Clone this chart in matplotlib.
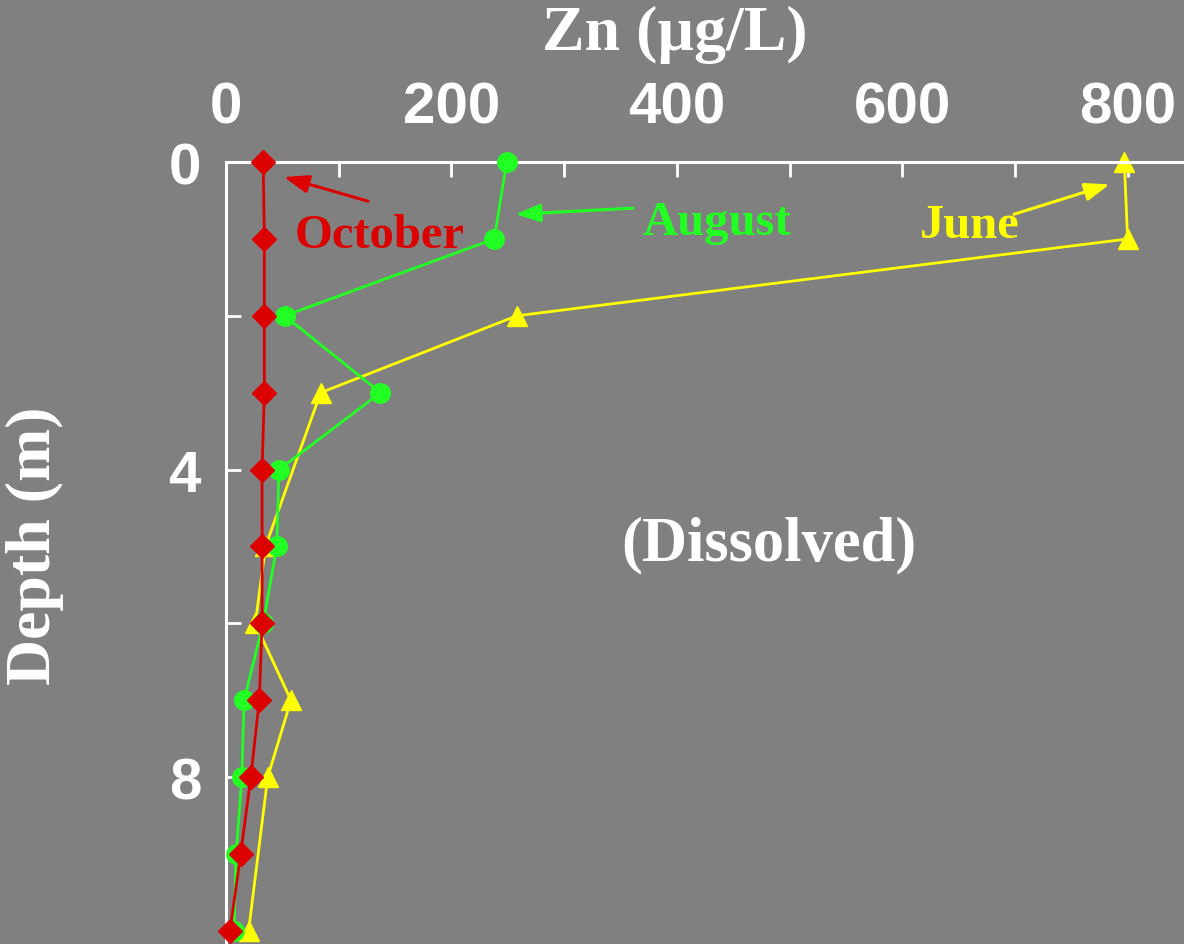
import matplotlib.pyplot as plt
from matplotlib.ticker import MultipleLocator

# Dissolved Zn profiles (ug/L) by depth (m)
oct_depth = [0, 1, 2, 3, 4, 5, 6, 7, 8, 9, 10]
oct_zn = [33, 34, 34, 34, 32, 32, 32, 29.5, 22, 13, 3.5]

aug_depth = [0, 1, 2, 3, 4, 5, 6, 7, 8, 9, 10]
aug_zn = [249, 238, 52, 137, 47, 45, 33, 16, 14, 9, 7]

jun_depth = [0, 1, 2, 3, 5, 6, 7, 8, 10]
jun_zn = [797, 800, 258, 84, 35, 26, 57.6, 37, 20]

BG = "#808080"
RED = "#dd0000"
GREEN = "#22ff22"
YELLOW = "#ffff00"

fig = plt.figure(figsize=(11.84, 9.45), dpi=100, facecolor=BG)
ax = fig.add_axes([0.1909, 0.0, 0.8091, 0.8275], facecolor=BG)

ax.plot(oct_zn, oct_depth, color=RED, marker="D", markersize=12, lw=2,
        clip_on=False, zorder=4)
ax.plot(aug_zn, aug_depth, color=GREEN, marker="o", markersize=14, lw=2,
        clip_on=False, zorder=3)
ax.plot(jun_zn, jun_depth, color=YELLOW, marker="^", markersize=14, lw=2,
        clip_on=False, zorder=2)

ax.set_xlim(0, 850)
ax.set_ylim(10.17, 0)
ax.xaxis.tick_top()
ax.xaxis.set_label_position("top")
ax.xaxis.set_major_locator(MultipleLocator(200))
ax.xaxis.set_minor_locator(MultipleLocator(100))
ax.yaxis.set_major_locator(MultipleLocator(4))
ax.yaxis.set_minor_locator(MultipleLocator(2))

for side in ["bottom", "right"]:
    ax.spines[side].set_visible(False)
for side in ["top", "left"]:
    ax.spines[side].set_color("white")
    ax.spines[side].set_linewidth(2.2)

ax.tick_params(axis="both", which="both", direction="in", length=11,
               width=2, color="white", labelcolor="white")
ax.tick_params(axis="x", which="major", pad=20)
ax.tick_params(axis="y", which="major", pad=18)
for lab in ax.get_xticklabels() + ax.get_yticklabels():
    lab.set_fontfamily("Liberation Sans")
    lab.set_fontweight("bold")
    lab.set_fontsize(42)

serif = "Liberation Serif"
xl = ax.set_xlabel("Zn (\u00b5g/L)", family=serif, weight="bold", size=46,
                   color="white")
xl.set_va("center")
ax.xaxis.set_label_coords(0.468, 1.164)
yl = ax.set_ylabel("Depth (m)", family=serif, weight="bold", size=46,
                   color="white")
yl.set_va("center")
ax.yaxis.set_label_coords(-0.199, 0.51)

ax.text(482, 4.97, "(Dissolved)", family=serif, weight="bold", size=45,
        color="white", ha="center", va="center")

# month labels with pointer arrows
ax.text(136.6, 0.95, "October", family=serif, weight="bold", size=35,
        color=RED, ha="center", va="center")
ax.text(435.5, 0.78, "August", family=serif, weight="bold", size=35,
        color=GREEN, ha="center", va="center")
ax.text(660, 0.82, "June", family=serif, weight="bold", size=35,
        color=YELLOW, ha="center", va="center")

arrow_specs = [
    ((51.4, 0.195), (126, 0.51), RED),
    ((257, 0.68), (361, 0.60), GREEN),
    ((784, 0.29), (699, 0.68), YELLOW),
]
for tip, tail, col in arrow_specs:
    ax.annotate("", xy=tip, xytext=tail,
                arrowprops=dict(arrowstyle="-|>,head_length=1.5,head_width=0.55",
                                color=col, lw=2.2, shrinkA=0, shrinkB=0))

fig.savefig("out.png", dpi=100, facecolor=BG)
